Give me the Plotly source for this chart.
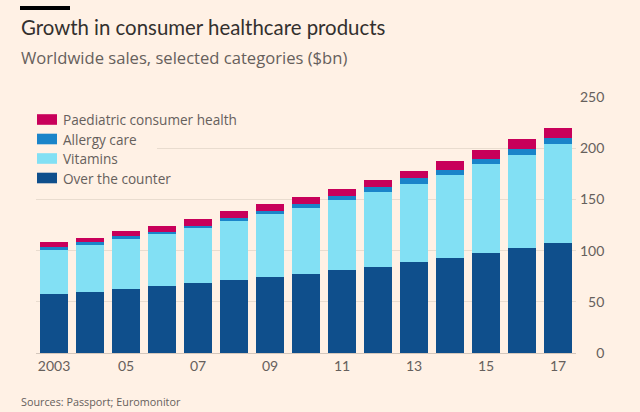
import plotly.graph_objects as go

# Worldwide sales, $bn
years = ["2003", "2004", "2005", "2006", "2007", "2008", "2009", "2010",
         "2011", "2012", "2013", "2014", "2015", "2016", "2017"]
over_the_counter = [57.6, 59.6, 62.5, 65.0, 68.4, 71.6, 74.6, 77.4,
                    80.7, 84.3, 88.5, 92.4, 97.7, 102.2, 107.3]
vitamins = [43.3, 46.2, 48.8, 50.9, 53.3, 57.4, 60.8, 64.2,
            68.4, 72.6, 76.9, 81.5, 86.9, 91.5, 96.9]
allergy_care = [2.6, 2.6, 2.6, 2.6, 2.6, 2.9, 2.9, 4.3,
                4.3, 4.9, 5.6, 5.2, 4.9, 5.2, 5.4]
paediatric = [4.5, 4.2, 4.9, 5.5, 6.2, 6.5, 7.2, 6.1,
              6.8, 7.2, 7.1, 8.1, 9.1, 9.8, 10.2]

x_tickvals = ["2003", "2005", "2007", "2009", "2011", "2013", "2015", "2017"]
x_ticktext = ["2003", "05", "07", "09", "11", "13", "15", "17"]
y_tickvals = [0, 50, 100, 150, 200, 250]
y_ticktext = ["\u2007\u20070", "\u200750", "100", "150", "200", "250"]

BG = "#fff1e5"
GREY = "#66605c"

# plot area in pixels, used to place titles and the legend
L, R, T, B = 36, 64, 97, 59
W, H = 640 - L - R, 412 - T - B


def px_x(p):
    return (p - L) / W


def px_y(p):
    return (412 - B - p) / H


series = [
    ("Over the counter", over_the_counter, "#0f4f8c"),
    ("Vitamins", vitamins, "#82e0f4"),
    ("Allergy care", allergy_care, "#1a84c9"),
    ("Paediatric consumer health", paediatric, "#c8005a"),
]

fig = go.Figure()
for name, vals, col in series:
    fig.add_trace(go.Bar(x=years, y=vals, name=name, showlegend=False,
                         marker=dict(color=col, line=dict(width=0))))

# hand-drawn legend, top item first (FT style wide swatches)
shapes = [
    dict(type="line", xref="paper", yref="paper",
         x0=px_x(20), x1=px_x(70), y0=px_y(8), y1=px_y(8),
         line=dict(color="#000000", width=4)),
    # paper patch hiding the gridline behind the legend
    dict(type="rect", xref="paper", yref="paper", layer="above",
         x0=px_x(36), x1=px_x(157), y0=px_y(110), y1=px_y(188),
         fillcolor=BG, line=dict(width=0)),
]
annotations = []
for i, (name, vals, col) in enumerate(reversed(series)):
    cy = 119.5 + i * 19.5
    shapes.append(dict(type="rect", xref="paper", yref="paper", layer="above",
                       x0=px_x(37), x1=px_x(57), y0=px_y(cy - 5.3), y1=px_y(cy + 5.3),
                       fillcolor=col, line=dict(width=0)))
    annotations.append(dict(text=name, xref="paper", yref="paper",
                            x=px_x(61), y=px_y(cy), xanchor="left", yanchor="middle",
                            showarrow=False, font=dict(family="Open Sans", size=13.6, color=GREY)))

annotations += [
    dict(text="Growth in consumer healthcare products", xref="paper", yref="paper",
         x=px_x(19), y=px_y(26.5), xanchor="left", yanchor="middle", showarrow=False,
         font=dict(family="Lato", size=20.4, color="#33302e")),
    dict(text="Worldwide sales, selected categories ($bn)", xref="paper", yref="paper",
         x=px_x(19), y=px_y(57), xanchor="left", yanchor="middle", showarrow=False,
         font=dict(family="Open Sans", size=16.6, color=GREY)),
    dict(text="Sources: Passport; Euromonitor", xref="paper", yref="paper",
         x=px_x(19), y=px_y(401), xanchor="left", yanchor="middle", showarrow=False,
         font=dict(family="Open Sans", size=10.8, color=GREY)),
]

fig.update_layout(
    width=640, height=412,
    margin=dict(l=L, r=R, t=T, b=B),
    paper_bgcolor=BG, plot_bgcolor=BG,
    barmode="stack", bargap=0.2,
    font=dict(family="Lato", color=GREY, size=14),
    xaxis=dict(type="category", range=[-0.5, 14.5],
               tickmode="array", tickvals=x_tickvals, ticktext=x_ticktext,
               showgrid=False, showline=True, linecolor="#d4c7bc",
               ticks="", tickfont=dict(size=14)),
    yaxis=dict(side="right", range=[0, 250],
               tickmode="array", tickvals=y_tickvals, ticktext=y_ticktext,
               showgrid=True, gridcolor="#e9dccf", zeroline=False,
               ticks="", ticklabelstandoff=3, tickfont=dict(size=14)),
    shapes=shapes,
    annotations=annotations,
)

fig.write_html("out.html", config={"displayModeBar": False},
               post_script="document.body.style.margin='0';"
                           "document.body.style.background='" + BG + "';")
